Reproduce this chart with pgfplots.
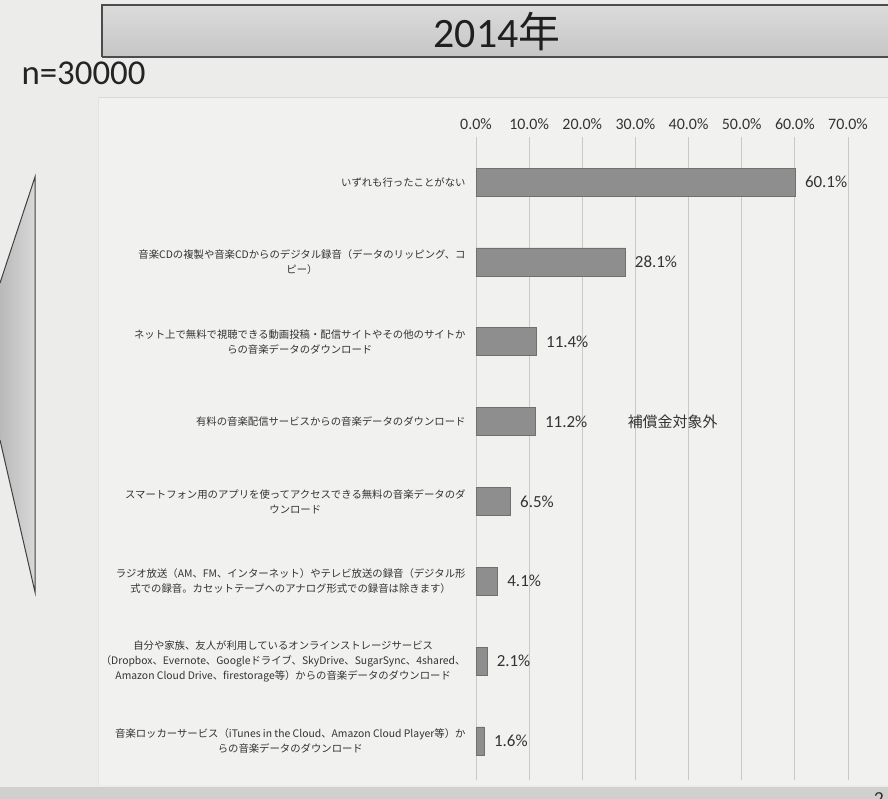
\documentclass[border=0pt]{standalone}
\usepackage{fontspec}
\setmainfont{Carlito}
\newfontfamily\jp{Noto Sans CJK JP}
\usepackage{pgfplots}
\pgfplotsset{compat=1.18}
\usetikzlibrary{shadings}

\definecolor{bg}{HTML}{ECECEA}
\definecolor{panel}{HTML}{F1F1EF}
\definecolor{gridc}{HTML}{C9C9C7}
\definecolor{barc}{HTML}{8E8E8E}
\definecolor{bard}{HTML}{707070}
\definecolor{txt}{HTML}{333333}

\begin{document}
\begin{tikzpicture}
\path[use as bounding box] (0bp,0bp) rectangle (888bp,-799bp);
\clip (0bp,0bp) rectangle (888bp,-799bp);
\begin{scope}[x=1bp,y=-1bp]
  \fill[bg] (0,0) rectangle (888,799);
  % chart panel
  \fill[panel] (98,97) rectangle (900,785);
  \draw[gridc!70,line width=0.8bp] (98,97) -- (900,97);
  \draw[gridc!50,line width=0.6bp] (98,97) -- (98,785);
  \fill[bg!88!black] (0,787) rectangle (888,799);
  % title banner
  \shade[top color=gray!28, bottom color=gray!45] (102,5) rectangle (900,57);
  \draw[black!70,line width=1.2bp] (102,57) -- (102,5) -- (900,5);
  \draw[black!70,line width=1.6bp] (102,57) -- (900,57);
  \node[txt!60!black] at (497,32) {\fontsize{42}{44}\selectfont 2014{\jp 年}};
  \node[anchor=west,txt!70!black] at (18,73) {\fontsize{35}{38}\selectfont n=30000};
  % left arrow shape
  \shade[left color=gray!55, right color=gray!30] (35,177) -- (0,283) -- (0,440) -- (35,592) -- cycle;
  \draw[black!75,line width=1bp] (0,283) -- (35,177) -- (35,592) -- (0,440);
  \node[black!80] at (879,799) {\fontsize{20}{20}\selectfont 2};
\end{scope}

\begin{axis}[
  at={(476bp,-780bp)}, anchor=south west,
  scale only axis, width=372bp, height=643bp,
  /pgf/number format/assume math mode=true,
  xbar, bar width=0.35,
  xmin=0, xmax=70,
  ymin=-0.565, ymax=7.49, y dir=reverse,
  xtick={0,10,...,70},
  xticklabel pos=upper,
  xticklabel={\pgfmathprintnumber[fixed,fixed zerofill,precision=1]{\tick}\%},
  xticklabel style={font=\fontsize{16}{18}\selectfont, text=txt, yshift=4bp},
  xmajorgrids, grid style={gridc, line width=0.8bp},
  axis line style={draw=none},
  major tick length=0pt,
  ytick={0,...,7},
  yticklabels={
    {いずれも行ったことがない},
    {音楽CDの複製や音楽CDからのデジタル録音（データのリッピング、コ\\ピー）},
    {ネット上で無料で視聴できる動画投稿・配信サイトやその他のサイトか\\らの音楽データのダウンロード},
    {有料の音楽配信サービスからの音楽データのダウンロード},
    {スマートフォン用のアプリを使ってアクセスできる無料の音楽データのダ\\ウンロード},
    {ラジオ放送（AM、FM、インターネット）やテレビ放送の録音（デジタル形\\式での録音。カセットテープへのアナログ形式での録音は除きます）},
    {自分や家族、友人が利用しているオンラインストレージサービス\\（Dropbox、Evernote、Googleドライブ、SkyDrive、SugarSync、4shared、\\Amazon Cloud Drive、firestorage等）からの音楽データのダウンロード},
    {音楽ロッカーサービス（iTunes in the Cloud、Amazon Cloud Player等）か\\らの音楽データのダウンロード}
  },
  yticklabel style={align=center, font=\jp\fontsize{10.4}{15}\selectfont, text=txt, xshift=-7bp},
  nodes near coords={\pgfmathprintnumber[fixed,fixed zerofill,precision=1]{\pgfplotspointmeta}\%},
  nodes near coords style={anchor=west, xshift=6bp, font=\fontsize{17}{19}\selectfont, text=txt},
  clip=false,
]
\addplot[fill=barc, draw=bard, line width=0.6bp] coordinates {
  (60.1,0) (28.1,1) (11.4,2) (11.2,3) (6.5,4) (4.1,5) (2.1,6) (1.6,7)
};
\node[anchor=west, text=txt] at (axis cs:27.9,3) {\jp\fontsize{15}{17}\selectfont 補償金対象外};
\end{axis}
\end{tikzpicture}
\end{document}
